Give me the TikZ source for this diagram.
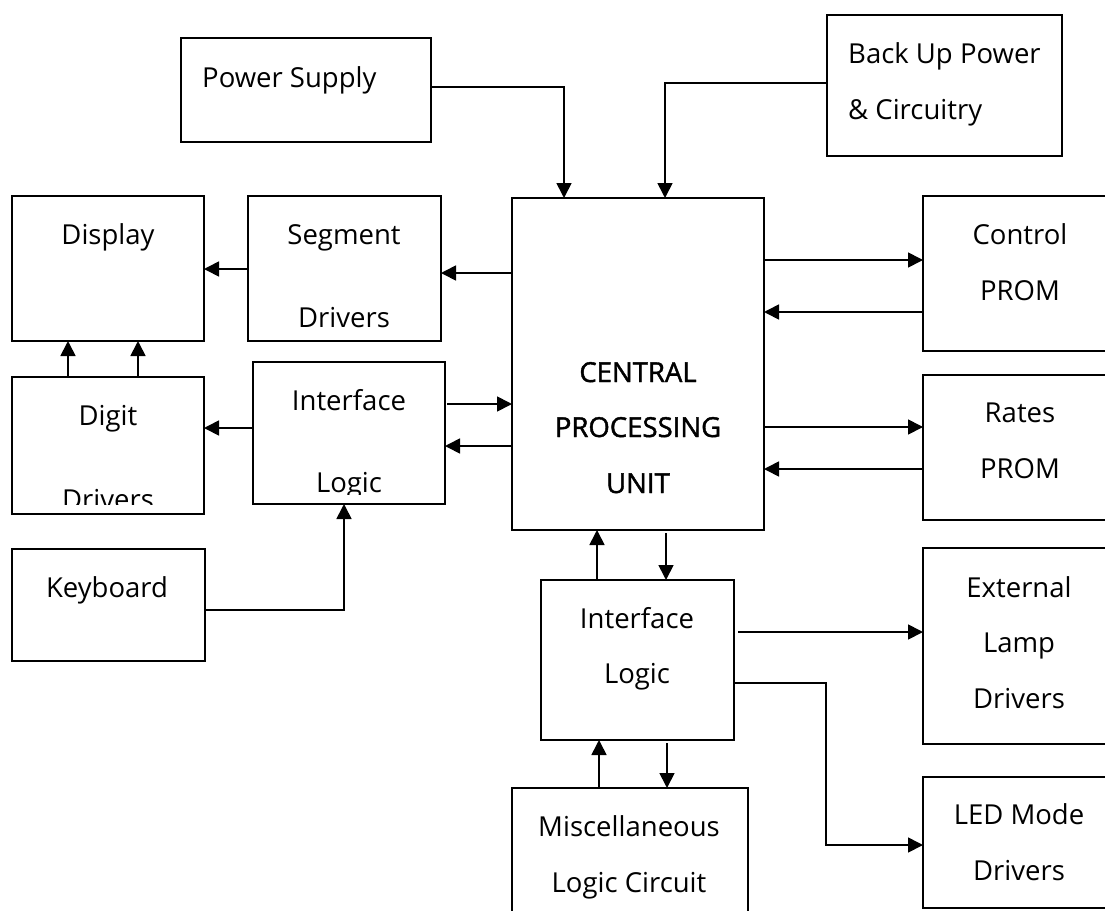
\documentclass[tikz,border=0pt]{standalone}
\usepackage{fontspec}
\setmainfont{Open Sans}
\newfontfamily\cpufont[FakeBold=1.5]{Open Sans}
\usetikzlibrary{arrows.meta}
\tikzset{
  box/.style={draw, line width=1.7pt, rectangle, inner sep=0pt, outer sep=0pt},
  lbl/.style={anchor=base, inner sep=0pt, font=\fontsize{27.5}{32}\selectfont},
  lblw/.style={anchor=base west, inner sep=0pt, font=\fontsize{27.5}{32}\selectfont},
  cpulbl/.style={anchor=base, inner sep=0pt, font=\fontsize{27.5}{32}\selectfont\cpufont},
  arr/.style={line width=1.7pt, -{Triangle[length=15pt,width=15pt]}}
}
\begin{document}
\begin{tikzpicture}[x=1pt,y=-1pt]
\clip (0,0) rectangle (1105,910);
\fill[white] (0,0) rectangle (1105,910);
% boxes
\node[box, minimum width=250pt, minimum height=104pt] (ps) at (306,90) {};
\node[box, minimum width=235pt, minimum height=141pt] (bu) at (944.5,85.5) {};
\node[box, minimum width=252pt, minimum height=332pt] (cpu) at (638,364) {};
\node[box, minimum width=192pt, minimum height=145pt] (disp) at (108,268.5) {};
\node[box, minimum width=193pt, minimum height=145pt] (seg) at (344.5,268.5) {};
\node[box, minimum width=192pt, minimum height=137pt] (digit) at (108,445.5) {};
\node[box, minimum width=192pt, minimum height=142pt] (ifl) at (349,433) {};
\node[box, minimum width=193pt, minimum height=112pt] (kb) at (108.5,605) {};
\node[box, minimum width=197pt, minimum height=155pt] (ctl) at (1021.5,273.5) {};
\node[box, minimum width=197pt, minimum height=145pt] (rates) at (1021.5,447.5) {};
\node[box, minimum width=193pt, minimum height=160pt] (ifb) at (637.5,660) {};
\node[box, minimum width=197pt, minimum height=196pt] (ext) at (1021.5,646) {};
\node[box, minimum width=197pt, minimum height=131pt] (led) at (1021.5,842.5) {};
\node[box, minimum width=236pt, minimum height=142pt] (misc) at (630,859) {};
% labels
\node[lblw] (tps) at (202,87) {Power Supply};
\node[lblw] (tbu1) at (848,63) {Back Up Power};
\node[lblw] (tbu2) at (848,119) {\& Circuitry};
\node[lbl] (tdisp) at (108,244) {Display};
\node[lbl] (tseg1) at (344,244) {Segment};
\node[lbl] (tseg2) at (344,327) {Drivers};
\node[lbl] (tdig1) at (108,425) {Digit};
\begin{scope}
\clip (12,377) rectangle (204,504);
\node[lbl] (tdig2) at (108,509) {Drivers};
\end{scope}
\node[lbl] (tifl1) at (349,410) {Interface};
\begin{scope}
\clip (253,362) rectangle (445,494);
\node[lbl] (tifl2) at (349,492) {Logic};
\end{scope}
\node[lbl] (tkb) at (107,597) {Keyboard};
\node[cpulbl] (tcpu1) at (638,382) {CENTRAL};
\node[cpulbl] (tcpu2) at (638,437) {PROCESSING};
\node[cpulbl] (tcpu3) at (638,493) {UNIT};
\node[lbl] (tctl1) at (1020,244) {Control};
\node[lbl] (tctl2) at (1020,300) {PROM};
\node[lbl] (trat1) at (1020,422) {Rates};
\node[lbl] (trat2) at (1020,478) {PROM};
\node[lbl] (tifb1) at (637,628) {Interface};
\node[lbl] (tifb2) at (637,683) {Logic};
\node[lbl] (text1) at (1019,597) {External};
\node[lbl] (text2) at (1019,652) {Lamp};
\node[lbl] (text3) at (1019,708) {Drivers};
\node[lbl] (tled1) at (1019,824) {LED Mode};
\node[lbl] (tled2) at (1019,880) {Drivers};
\node[lbl] (tmis1) at (629,836) {Miscellaneous};
\node[lbl] (tmis2) at (629,892) {Logic Circuit};
% connectors
\draw[arr] (ps.east |- 0,87) -| (cpu.north -| 564,0);
\draw[arr] (bu.west |- 0,83) -| (cpu.north -| 665,0);
\draw[arr] (seg.west |- 0,269) -- (disp.east |- 0,269);
\draw[arr] (cpu.west |- 0,273) -- (seg.east |- 0,273);
\draw[arr] (digit.north -| 68,0) -- (disp.south -| 68,0);
\draw[arr] (digit.north -| 138,0) -- (disp.south -| 138,0);
\draw[arr] (ifl.west |- 0,428) -- (digit.east |- 0,428);
\draw[arr] ([xshift=2pt]ifl.east |- 0,404) -- (cpu.west |- 0,404);
\draw[arr] (cpu.west |- 0,446) -- (ifl.east |- 0,446);
\draw[arr] (kb.east |- 0,610) -| (ifl.south -| 344,0);
\draw[arr] (cpu.east |- 0,260) -- (ctl.west |- 0,260);
\draw[arr] (ctl.west |- 0,312) -- (cpu.east |- 0,312);
\draw[arr] (cpu.east |- 0,427) -- (rates.west |- 0,427);
\draw[arr] (rates.west |- 0,469) -- (cpu.east |- 0,469);
\draw[arr] (ifb.north -| 597,0) -- (cpu.south -| 597,0);
\draw[arr] ([yshift=-3pt]cpu.south -| 666,0) -- (ifb.north -| 666,0);
\draw[arr] (misc.north -| 599,0) -- (ifb.south -| 599,0);
\draw[arr] ([yshift=-3pt]ifb.south -| 667,0) -- (misc.north -| 667,0);
\draw[arr] ([xshift=4pt]ifb.east |- 0,632) -- (ext.west |- 0,632);
\draw[arr] (ifb.east |- 0,683) -| (826,845) -- (led.west |- 0,845);
\end{tikzpicture}
\end{document}
